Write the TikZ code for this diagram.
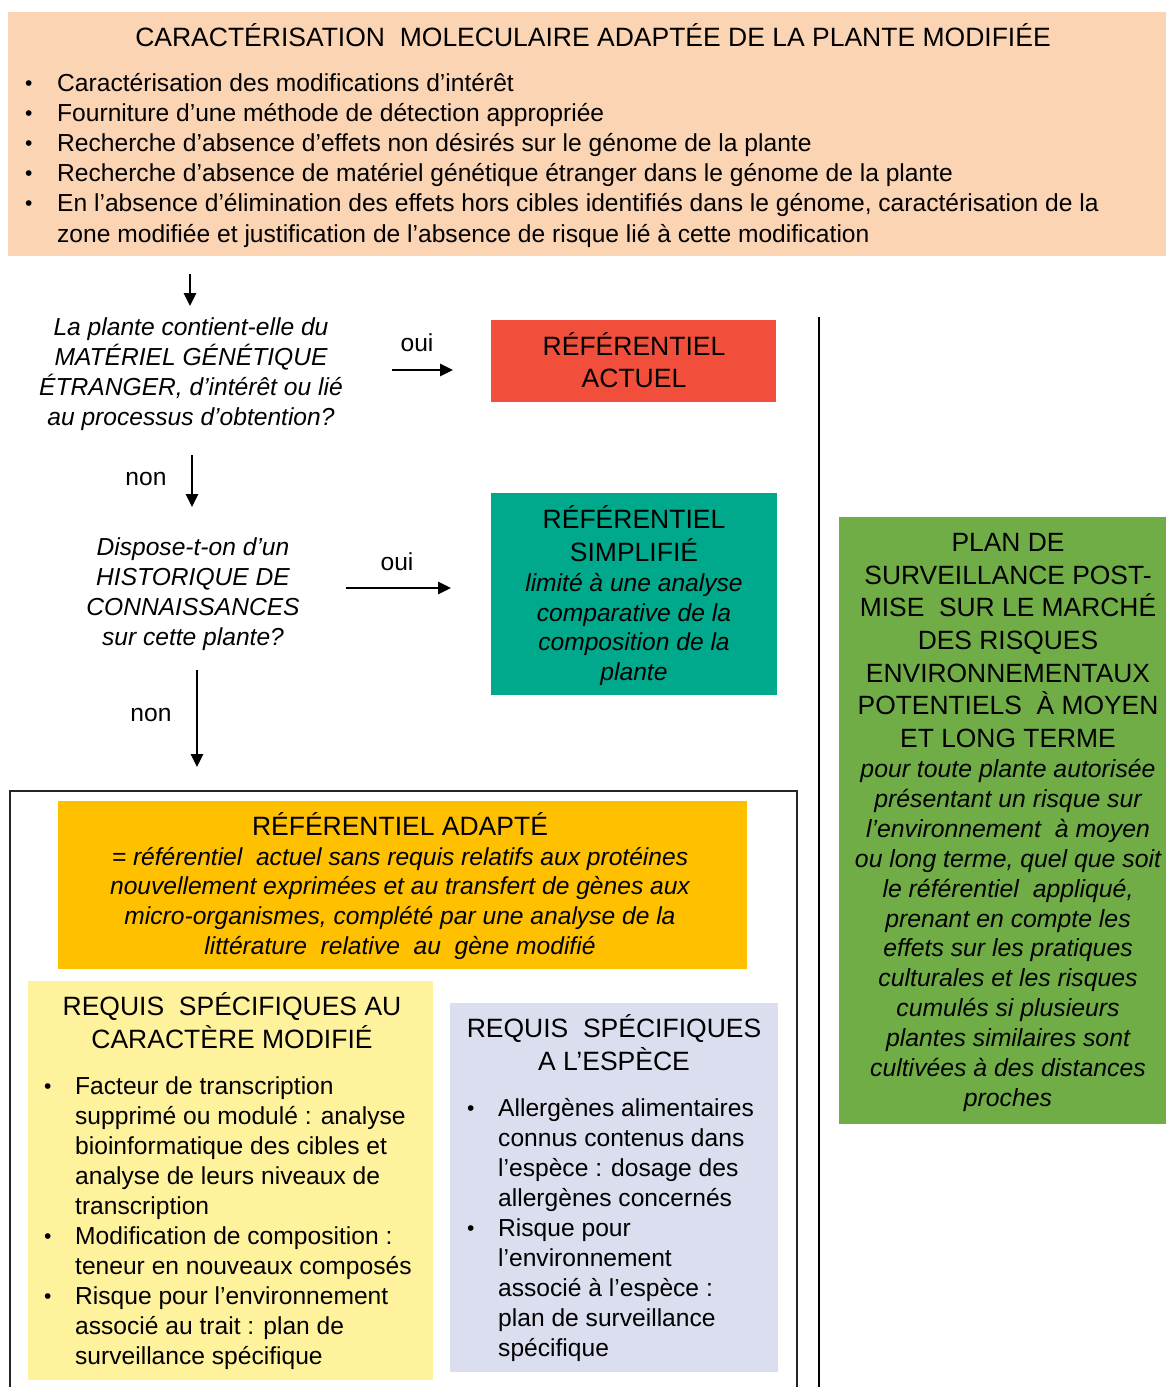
\documentclass[tikz,border=0pt]{standalone}
\usepackage{fontspec}
\setmainfont{Liberation Sans}
\usetikzlibrary{arrows.meta}
\definecolor{peach}{HTML}{FBD4B4}
\definecolor{redref}{HTML}{F24E3C}
\definecolor{tealref}{HTML}{00A98B}
\definecolor{amber}{HTML}{FFC000}
\definecolor{paleyellow}{HTML}{FFF29D}
\definecolor{lavender}{HTML}{DADEEF}
\definecolor{greenref}{HTML}{70AD47}
\newcommand{\mlines}[1]{\begin{tabular}[t]{@{}c@{}}#1\end{tabular}}
\newcommand{\llines}[1]{\begin{tabular}[t]{@{}l@{}}#1\end{tabular}}
\newcommand{\bul}[1]{\makebox[#1][l]{\fontsize{21}{24}\selectfont\raisebox{1pt}{\textbullet}}}
\newcommand{\bodyfont}{\fontsize{24.6}{30}\selectfont}
\newcommand{\capfont}{\fontsize{26.5}{32.2}\selectfont}
\begin{document}
\begin{tikzpicture}[x=1pt,y=-1pt,
  box/.style={inner sep=0pt},
  txt/.style={inner sep=0pt,anchor=base},
  ltxt/.style={inner sep=0pt,anchor=base west},
  arr/.style={line width=2.6pt,-{Triangle[length=13pt,width=12pt]}}]
\useasboundingbox (0,0) rectangle (1166,1387);
% top box
\fill[peach] (8,12) rectangle (1166,256);
\node[txt] (title) at (593,46) {\capfont CARACTÉRISATION\ \ MOLECULAIRE ADAPTÉE DE LA PLANTE MODIFIÉE};
\node[ltxt] (toplist) at (25,91) {\bodyfont\fontsize{24.6}{30.2}\selectfont\llines{%
\bul{32pt}Caractérisation des modifications d’intérêt\\
\bul{32pt}Fourniture d’une méthode de détection appropriée\\
\bul{32pt}Recherche d’absence d’effets non désirés sur le génome de la plante\\
\bul{32pt}Recherche d’absence de matériel génétique étranger dans le génome de la plante\\
\bul{32pt}En l’absence d’élimination des effets hors cibles identifiés dans le génome, caractérisation de la\\
\hspace{32pt}zone modifiée et justification de l’absence de risque lié à cette modification}};
% question 1
\coordinate (a0s) at (190,274);
\coordinate (a0e) at (190,306);
\draw[arr] (a0s) -- (a0e);
\node[txt] (q1) at (191,335) {\bodyfont\itshape\mlines{La plante contient-elle du\\MATÉRIEL GÉNÉTIQUE\\ÉTRANGER, d’intérêt ou lié\\au processus d’obtention?}};
\node[txt] (oui1) at (417,351) {\bodyfont oui};
\coordinate (o1s) at (392,370);
\coordinate (o1e) at (453,370);
\draw[arr] (o1s) -- (o1e);
\fill[redref] (491,320) rectangle (776,402);
\node[txt] (actuel) at (634,355.5) {\capfont\mlines{RÉFÉRENTIEL\\ACTUEL}};
% non 1
\node[txt] (non1) at (146,485) {\bodyfont non};
\coordinate (n1s) at (192,455);
\coordinate (n1e) at (192,507);
\draw[arr] (n1s) -- (n1e);
% question 2
\node[txt] (q2) at (193,555) {\bodyfont\itshape\mlines{Dispose-t-on d’un\\HISTORIQUE DE\\CONNAISSANCES\\sur cette plante?}};
\node[txt] (oui2) at (397,570) {\bodyfont oui};
\coordinate (o2s) at (346,588);
\coordinate (o2e) at (451,588);
\draw[arr] (o2s) -- (o2e);
\fill[tealref] (491,493) rectangle (777,695);
\node[txt] (simpT) at (634,528.5) {\capfont\mlines{RÉFÉRENTIEL\\SIMPLIFIÉ}};
\node[txt] (simpI) at (634,591.5) {\fontsize{24.6}{29.7}\selectfont\itshape\mlines{limité à une analyse\\comparative de la\\composition de la\\plante}};
% non 2
\node[txt] (non2) at (151,721) {\bodyfont non};
\coordinate (n2s) at (197,670);
\coordinate (n2e) at (197,767);
\draw[arr] (n2s) -- (n2e);
% vertical separator
\coordinate (vtop) at (819,317);
\coordinate (vbot) at (819,1392);
\draw[line width=2.5pt] (vtop) -- (vbot);
% outline frame
\coordinate (fbl) at (10,1392);
\coordinate (ftl) at (10,791);
\coordinate (ftr) at (797,791);
\coordinate (fbr) at (797,1392);
\draw[line width=1.6pt,black!85] (fbl) -- (ftl) -- (ftr) -- (fbr);
% adapted
\fill[amber] (58,801) rectangle (747,969);
\node[txt] (adT) at (400,835.5) {\capfont RÉFÉRENTIEL ADAPTÉ};
\node[txt] (adI) at (400,865) {\fontsize{24.6}{29.7}\selectfont\itshape\mlines{= référentiel\ \ actuel sans requis relatifs aux protéines\\nouvellement exprimées et au transfert de gènes aux\\micro-organismes, complété par une analyse de la\\littérature\ \ relative\ \ au\ \ gène modifié}};
% yellow box
\fill[paleyellow] (28,981) rectangle (433,1380);
\node[txt] (yT) at (232,1015.5) {\capfont\mlines{REQUIS\ \ SPÉCIFIQUES AU\\CARACTÈRE MODIFIÉ}};
\node[ltxt] (yL) at (44,1094) {\bodyfont\llines{%
\bul{31pt}Facteur de transcription\\
\hspace{31pt}supprimé ou modulé : analyse\\
\hspace{31pt}bioinformatique des cibles et\\
\hspace{31pt}analyse de leurs niveaux de\\
\hspace{31pt}transcription\\
\bul{31pt}Modification de composition :\\
\hspace{31pt}teneur en nouveaux composés\\
\bul{31pt}Risque pour l’environnement\\
\hspace{31pt}associé au trait : plan de\\
\hspace{31pt}surveillance spécifique}};
% lavender box
\fill[lavender] (450,1003) rectangle (778,1372);
\node[txt] (lT) at (614,1037.5) {\capfont\mlines{REQUIS\ \ SPÉCIFIQUES\\A L’ESPÈCE}};
\node[ltxt] (lL) at (467,1116) {\bodyfont\llines{%
\bul{31pt}Allergènes alimentaires\\
\hspace{31pt}connus contenus dans\\
\hspace{31pt}l’espèce : dosage des\\
\hspace{31pt}allergènes concernés\\
\bul{31pt}Risque pour\\
\hspace{31pt}l’environnement\\
\hspace{31pt}associé à l’espèce :\\
\hspace{31pt}plan de surveillance\\
\hspace{31pt}spécifique}};
% green box
\fill[greenref] (839,517) rectangle (1166,1124);
\node[txt] (gT) at (1008,551.5) {\fontsize{26.4}{32.67}\selectfont\mlines{PLAN DE\\SURVEILLANCE POST-\\MISE\ \ SUR LE MARCHÉ\\DES RISQUES\\ENVIRONNEMENTAUX\\POTENTIELS\ \ À MOYEN\\ET LONG TERME}};
\node[txt] (gI) at (1008,777.5) {\fontsize{24.8}{29.9}\selectfont\itshape\mlines{pour toute plante autorisée\\présentant un risque sur\\l’environnement\ \ à moyen\\ou long terme, quel que soit\\le référentiel\ \ appliqué,\\prenant en compte les\\effets sur les pratiques\\culturales et les risques\\cumulés si plusieurs\\plantes similaires sont\\cultivées à des distances\\proches}};
\end{tikzpicture}
\end{document}
